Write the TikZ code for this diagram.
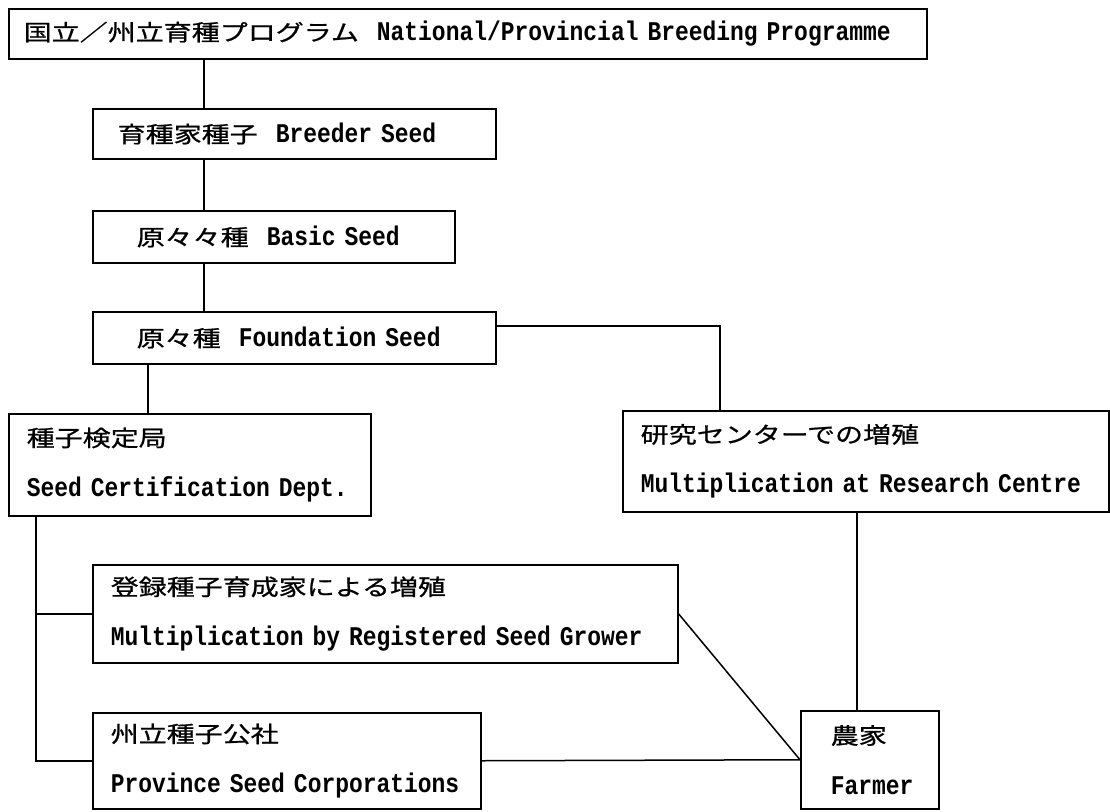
\documentclass[tikz,border=0pt]{standalone}
\usepackage{fontspec}
\newfontfamily\lat{Liberation Mono}[FakeStretch=0.85]
\newfontfamily\jp{Noto Sans CJK JP}[FakeStretch=1.25, FakeBold=0.8]
\newcommand\jtext[1]{{\jp\mdseries\fontsize{22.4pt}{50pt}\selectfont #1}}
\tikzset{
  box/.style={draw, line width=1.5pt, anchor=north west, inner ysep=0pt, align=left,
    font=\lat\bfseries\fontsize{27pt}{50pt}\selectfont},
  link/.style={line width=1.5pt},
}
\begin{document}
\begin{tikzpicture}[x=1pt,y=-1pt]
\useasboundingbox (0,0) rectangle (1110,811);
% boxes
\node[box, minimum width=918pt, minimum height=50pt, inner xsep=15pt, text width=888pt] (top) at (8,8)
  {\mbox{\jtext{国立／州立育種プログラム}~~National/Provincial Breeding Programme}};
\node[box, minimum width=403pt, minimum height=50pt, inner xsep=25pt, text width=353pt] (breeder) at (92,108)
  {\mbox{\jtext{育種家種子}~~Breeder Seed}};
\node[box, minimum width=362pt, minimum height=52pt, inner xsep=44pt, text width=274pt] (basic) at (92,210)
  {\mbox{\jtext{原々々種}~~Basic Seed}};
\node[box, minimum width=403pt, minimum height=52pt, inner xsep=44pt, text width=315pt] (found) at (92,311)
  {\mbox{\jtext{原々種}~~Foundation Seed}};
\node[box, minimum width=362pt, minimum height=102pt, inner xsep=18pt, text width=326pt] (cert) at (8,413)
  {\mbox{\jtext{種子検定局}}\\\mbox{Seed Certification Dept.}};
\node[box, minimum width=486pt, minimum height=101pt, inner xsep=18pt, text width=450pt] (research) at (622,410)
  {\mbox{\jtext{研究センターでの増殖}}\\\mbox{Multiplication at Research Centre}};
\node[box, minimum width=585pt, minimum height=98pt, inner xsep=18pt, text width=549pt] (reg) at (92,564)
  {\mbox{\jtext{登録種子育成家による増殖}}\\\mbox{Multiplication by Registered Seed Grower}};
\node[box, minimum width=388pt, minimum height=96pt, inner xsep=18pt, text width=352pt] (prov) at (92,712)
  {\mbox{\jtext{州立種子公社}}\\\mbox{Province Seed Corporations}};
\node[box, minimum width=138pt, minimum height=98pt, inner xsep=30pt, text width=78pt] (farmer) at (800,710)
  {\mbox{\jtext{農家}}\\\mbox{Farmer}};
% connector columns
\coordinate (xa) at (204,0);
\coordinate (xb) at (148,0);
\coordinate (xr) at (720,326);
\coordinate (xl) at (36,0);
\coordinate (xf) at (857,0);
\draw[link] (top.south -| xa) -- (breeder.north -| xa);
\draw[link] (breeder.south -| xa) -- (basic.north -| xa);
\draw[link] (basic.south -| xa) -- (found.north -| xa);
\draw[link] (found.south -| xb) -- (cert.north -| xb);
\draw[link] (found.east |- xr) -- (xr) -- (xr |- research.north);
\draw[link] (cert.south -| xl) |- (prov.west);
\draw[link] (xl |- reg.west) -- (reg.west);
\draw[link] (research.south -| xf) -- (farmer.north -| xf);
\draw[link] (reg.east) -- (farmer.west);
\draw[link] (prov.east) -- (farmer.west);
\end{tikzpicture}
\end{document}
